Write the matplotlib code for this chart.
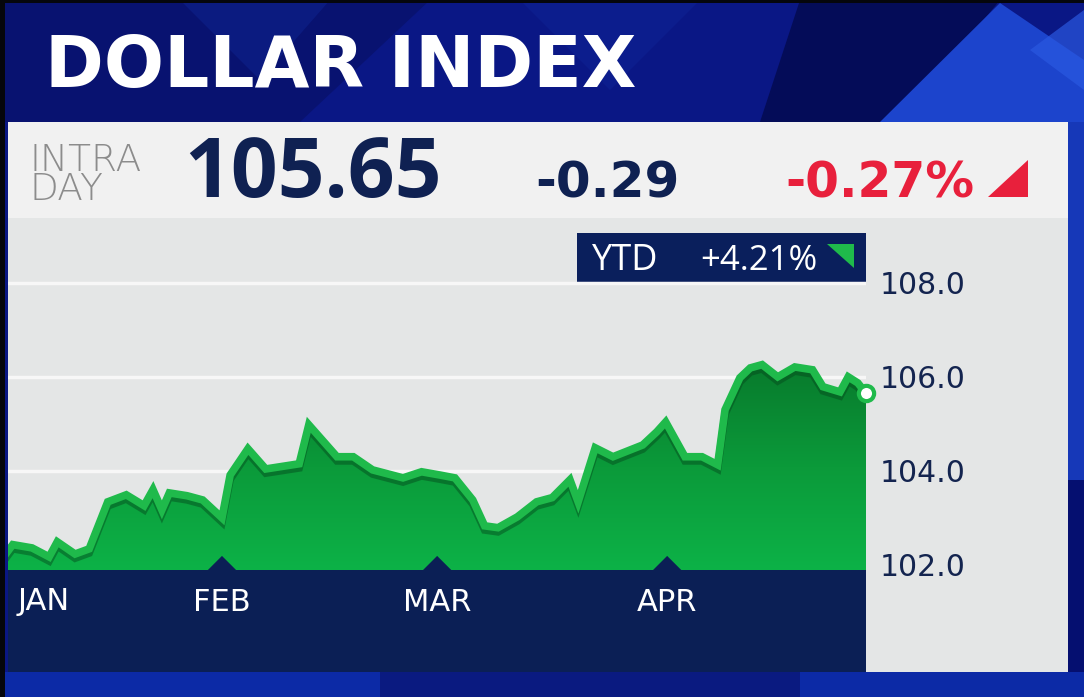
import numpy as np
import matplotlib.pyplot as plt
import matplotlib.patheffects as pe
from matplotlib.patches import Polygon, Rectangle
from matplotlib.colors import LinearSegmentedColormap

# %% Data (day of year, Jan 1 = 0)
days = [2.0, 2.8, 5.4, 7.7, 8.8, 11.2, 13.1, 15.6, 18.1, 20.5, 21.7, 22.9,
        23.9, 26.3, 28.4, 31.0, 32.1, 34.5, 36.9, 41.4, 42.7, 46.5, 48.7,
        51.3, 55.4, 57.9, 60.4, 62.4, 64.8, 66.4, 68.2, 70.8, 73.4, 75.5,
        77.9, 79.0, 81.3, 83.7, 87.7, 89.6, 90.8, 93.4, 95.7, 97.8, 98.8,
        100.8, 102.2, 103.8, 105.9, 108.2, 110.6, 112.0, 114.3, 115.4,
        116.7, 117.8]
level = [102.26, 102.43, 102.36, 102.17, 102.49, 102.23, 102.34, 103.34,
         103.49, 103.26, 103.60, 103.17, 103.53, 103.47, 103.38, 103.00,
         103.91, 104.47, 104.04, 104.15, 104.98, 104.30, 104.30, 104.02,
         103.85, 103.98, 103.91, 103.85, 103.38, 102.83, 102.79, 103.02,
         103.34, 103.43, 103.81, 103.34, 104.49, 104.30, 104.55, 104.83,
         105.04, 104.30, 104.30, 104.13, 105.30, 105.98, 106.19, 106.26,
         106.00, 106.21, 106.15, 105.79, 105.68, 106.00, 105.87, 105.65]
month_ticks = [0, 31, 60, 91]
month_labels = ['JAN', 'FEB', 'MAR', 'APR']
y_ticks = [102.0, 104.0, 106.0, 108.0]
last_price = 105.65
change = -0.29
change_pct = -0.27
ytd_pct = 4.21

#- Style
W, H = 1084, 697
navy = '#0b1f55'
ink = '#13244f'
green = '#1fba4b'
red = '#e8203c'
wide = 'DejaVu Sans'
plt.rcParams['font.family'] = ['Open Sans', 'DejaVu Sans']

fig = plt.figure(figsize=(W/100, H/100), dpi=100)
fig.patch.set_facecolor('#0a1785')

# %% Background / panels in pixel coordinates
bg = fig.add_axes([0, 0, 1, 1])
bg.set_xlim(0, W)
bg.set_ylim(H, 0)
bg.axis('off')

for pts, c, a in [
        ([(0, 0), (430, 0), (300, 122), (0, 122)], '#081270', 1),
        ([(180, 0), (330, 0), (260, 80)], '#1230a8', 0.3),
        ([(520, 0), (700, 0), (610, 90)], '#1230a8', 0.25),
        ([(800, 0), (1000, 0), (900, 122), (760, 122)], '#040c58', 1),
        ([(1000, 3), (1084, 60), (1084, 122), (880, 122)], '#1c44cc', 1),
        ([(1084, 10), (1084, 90), (1030, 50)], '#2a58e0', 0.7),
        ([(1068, 122), (1084, 122), (1084, 480), (1068, 480)], '#1638b8', 1),
        ([(1068, 480), (1084, 480), (1084, 697), (1068, 697)], '#050f70', 1),
        ([(0, 672), (1084, 672), (1084, 697), (0, 697)], '#0c2aa6', 1),
        ([(380, 672), (800, 672), (800, 697), (380, 697)], '#0a1a80', 1)]:
    bg.add_patch(Polygon(pts, closed=True, color=c, alpha=a, lw=0))

bg.add_patch(Rectangle((0, 0), 5, H, color='#05060c', lw=0))
bg.add_patch(Rectangle((0, 0), W, 3, color='#05060c', lw=0))

bg.add_patch(Rectangle((8, 122), 1060, 96, color='#f1f1f1', lw=0))
bg.add_patch(Rectangle((8, 218), 1060, 454, color='#e4e6e6', lw=0))
bg.add_patch(Rectangle((8, 570), 858, 102, color=navy, lw=0))

bg.text(45, 87, 'DOLLAR INDEX', fontsize=51, fontweight='bold',
        family=wide, color='white', va='baseline')

bg.text(30, 200, 'INTRA\nDAY', fontsize=27, fontweight='light', family=wide,
        color='#8c8c8c', va='baseline', linespacing=0.8)
bg.text(184, 197, f'{last_price:.2f}', fontsize=59, fontweight='bold',
        color='#0f2152', va='baseline')
bg.text(535, 197, f'{change:.2f}', fontsize=36, fontweight='bold',
        family=wide, color='#0f2152', va='baseline')
bg.text(785, 197, f'{change_pct:.2f}%', fontsize=35, fontweight='bold',
        family=wide, color=red, va='baseline')
bg.add_patch(Polygon([(1028, 160), (1028, 197), (988, 197)], color=red, lw=0))

bg.add_patch(Rectangle((577, 233), 289, 49, color='#0a1f5c', lw=0))
bg.text(592, 270, 'YTD', fontsize=26, color='white', va='baseline')
bg.text(700, 270, f'+{ytd_pct:.2f}%', fontsize=25, color='white',
        va='baseline')
bg.add_patch(Polygon([(827, 244), (854, 244), (854, 268)], color=green, lw=0))

# %% Chart
ax = fig.add_axes([8/W, 1 - 570/H, 858/W, 352/H])
ax.set_facecolor('none')
x0, x1 = 2.16, 117.8
ylo, yhi = 101.89, 109.38

verts = [(days[0], ylo)] + list(zip(days, level)) + [(days[-1], ylo)]
clip = Polygon(verts, closed=True, fc='none', ec='none')
ax.add_patch(clip)
cmap = LinearSegmentedColormap.from_list('g', ['#087a2c', '#0b9a3a', '#0db247'])
grad = np.linspace(0, 1, 256).reshape(-1, 1)
im = ax.imshow(grad, extent=[x0, x1, ylo, max(level)], aspect='auto',
               cmap=cmap, origin='upper', zorder=2)
im.set_clip_path(clip)

ax.plot(days, level, color=green, lw=5.5, solid_joinstyle='miter', zorder=4,
        path_effects=[pe.SimpleLineShadow(offset=(0, -3),
                                          shadow_color='#04461b', alpha=0.45),
                      pe.Normal()])
ax.plot(days[-1], level[-1], 'o', ms=11, mfc='white', mec=green, mew=3,
        clip_on=False, zorder=6)

for d in month_ticks:
    ax.fill([d - 1.9, d, d + 1.9], [ylo, ylo + 0.30, ylo], color=navy,
            lw=0, zorder=5)

ax.set_xlim(x0, x1)
ax.set_ylim(ylo, yhi)
ax.set_yticks(y_ticks)
ax.set_yticklabels([f'{v:.1f}' for v in y_ticks], family=wide)
ax.yaxis.tick_right()
ax.tick_params(axis='y', length=0, pad=10, labelsize=21.5, labelcolor=ink)
ax.grid(axis='y', color='#f7f7f7', lw=2.5, zorder=0)
ax.set_axisbelow(True)

ax.set_xticks(month_ticks[1:])
ax.set_xticklabels(month_labels[1:], family=wide)
ax.tick_params(axis='x', length=0, pad=13, labelsize=22, labelcolor='white')
ax.annotate(month_labels[0], xy=(0, 0), xycoords='axes fraction',
            xytext=(10, -40), textcoords='offset pixels', fontsize=22,
            family=wide, color='white', va='baseline')
for s in ax.spines.values():
    s.set_visible(False)

plt.savefig('out.png', dpi=100, facecolor=fig.get_facecolor())
